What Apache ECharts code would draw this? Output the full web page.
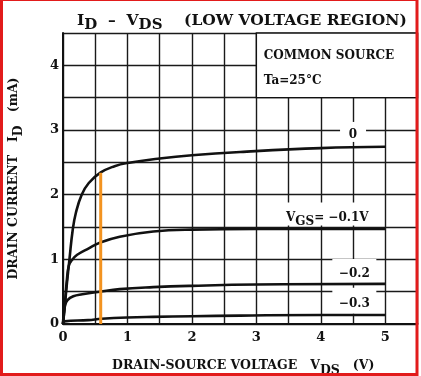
<!DOCTYPE html>
<html>
<head>
<meta charset="utf-8">
<script src="https://cdn.jsdelivr.net/npm/echarts@6/dist/echarts.min.js"></script>
<style>
  html, body { margin: 0; padding: 0; background: #fff; }
  #chart { width: 421px; height: 376px; }
</style>
</head>
<body>
<div id="chart"></div>
<script>
// drain current curves, [VDS (V), ID (mA)]
const curveVgs0 = [[0, 0], [0.03, 0.3], [0.06, 0.62], [0.1, 1.0], [0.15, 1.45], [0.2, 1.72], [0.29, 2.0], [0.4, 2.18], [0.58, 2.34], [0.8, 2.44], [1.0, 2.49], [1.5, 2.56], [2, 2.61], [2.75, 2.66], [4, 2.72], [5, 2.74]];
const curveVgsM01 = [[0, 0], [0.03, 0.32], [0.06, 0.68], [0.09, 0.9], [0.14, 0.99], [0.22, 1.07], [0.4, 1.17], [0.58, 1.26], [0.88, 1.35], [1.4, 1.43], [2, 1.46], [3, 1.47], [5, 1.47]];
const curveVgsM02 = [[0, 0], [0.01, 0.15], [0.03, 0.28], [0.07, 0.37], [0.16, 0.43], [0.3, 0.46], [0.57, 0.5], [0.88, 0.54], [1.4, 0.57], [2, 0.59], [3, 0.61], [5, 0.62]];
const curveVgsM03 = [[0, 0], [0.02, 0.04], [0.39, 0.06], [0.6, 0.08], [1, 0.1], [1.4, 0.11], [2, 0.12], [2.75, 0.13], [4, 0.14], [5, 0.14]];
const markerLine = [[0.585, 0], [0.585, 2.34]];

// curve labels: [x, y, text]
const curveLabels = [
  [4.5, 2.97, '0'],
  [4.1, 1.7, '{a|V}{s|GS}{a|= −0.1V}'],
  [4.52, 0.82, '−0.2'],
  [4.52, 0.36, '−0.3']
];
const labelBoxes = [[26, 20], [95, 23], [44, 24], [44, 26]];
const noteBox = [[3, 3.5], [5.5, 4.5]];
const noteText = 'COMMON SOURCE\nTa=25°C';

const FONT = 'DejaVu Serif';
const chart = echarts.init(document.getElementById('chart'));

function curve(data) {
  return {
    type: 'line',
    data: data,
    z: 3,
    smooth: 0.45,
    symbol: 'none',
    lineStyle: { color: '#111', width: 2.6 },
    silent: true
  };
}

const rich = {
  a: { fontFamily: FONT, fontSize: 12, fontWeight: 'bold', color: '#111' },
  s: { fontFamily: FONT, fontSize: 12, fontWeight: 'bold', color: '#111', padding: [8, 0, 0, 0] }
};
const nameRich = {
  a: { fontFamily: FONT, fontSize: 12.5, fontWeight: 'bold', color: '#111' },
  s: { fontFamily: FONT, fontSize: 12.5, fontWeight: 'bold', color: '#111', padding: [9, 0, 0, 0] }
};

var option = {
  backgroundColor: '#fff',
  animation: false,
  title: {
    left: 72,
    top: 3,
    text: '{a|I}{s|D}{a|  –  V}{s|DS}{a|    (LOW VOLTAGE REGION)}',
    textStyle: {
      rich: {
        a: { fontFamily: FONT, fontSize: 15.5, fontWeight: 'bold', color: '#111' },
        s: { fontFamily: FONT, fontSize: 15, fontWeight: 'bold', color: '#111', padding: [10, 0, 0, 0] }
      }
    }
  },
  grid: { left: 63, right: 3.5, top: 33, bottom: 52, outerBoundsMode: 'none' },
  xAxis: {
    type: 'value',
    min: 0,
    max: 5.5,
    interval: 0.5,
    name: '{a|DRAIN-SOURCE VOLTAGE   V}{s|DS}{a|   (V)}',
    nameLocation: 'middle',
    nameGap: 31,
    nameTextStyle: { rich: nameRich, padding: [0, 0, 0, 6] },
    axisLine: { lineStyle: { color: '#111', width: 2 } },
    axisTick: { show: false },
    splitLine: { lineStyle: { color: '#1a1a1a', width: 1.4 } },
    axisLabel: {
      margin: 7,
      fontFamily: FONT,
      fontSize: 13,
      fontWeight: 'bold',
      color: '#111',
      formatter: v => Number.isInteger(v) ? String(v) : ''
    }
  },
  yAxis: {
    type: 'value',
    min: 0,
    max: 4.5,
    interval: 0.5,
    name: '{a|DRAIN CURRENT   I}{s|D}{a|   (mA)}',
    nameLocation: 'middle',
    nameGap: 38,
    nameTextStyle: { rich: nameRich },
    axisLine: { show: true, lineStyle: { color: '#111', width: 2 } },
    axisTick: { show: false },
    splitLine: { lineStyle: { color: '#1a1a1a', width: 1.4 } },
    axisLabel: {
      margin: 4,
      fontFamily: FONT,
      fontSize: 13,
      fontWeight: 'bold',
      color: '#111',
      formatter: v => Number.isInteger(v) ? String(v) : ''
    }
  },
  series: [
    curve(curveVgs0),
    curve(curveVgsM01),
    curve(curveVgsM02),
    curve(curveVgsM03),
    {
      type: 'line',
      data: markerLine,
      z: 4,
      symbol: 'none',
      lineStyle: { color: '#f39320', width: 3 },
      silent: true
    },
    {
      type: 'line',
      data: [],
      silent: true,
      markArea: {
        z: 1,
        silent: true,
        itemStyle: { color: '#fff', opacity: 1, borderColor: '#111', borderWidth: 1.4 },
        label: {
          show: true,
          position: 'insideTopLeft',
          distance: 0,
          padding: [11, 0, 0, 8],
          formatter: noteText,
          fontFamily: FONT,
          fontSize: 12,
          fontWeight: 'bold',
          lineHeight: 25,
          color: '#111'
        },
        data: [[{ coord: noteBox[0] }, { coord: noteBox[1] }]]
      },
      markPoint: {
        z: 1,
        silent: true,
        symbol: 'rect',
        itemStyle: { color: '#fff' },
        label: {
          show: true,
          position: 'inside',
          color: '#111',
          fontFamily: FONT,
          fontSize: 12,
          fontWeight: 'bold',
          rich: rich
        },
        data: curveLabels.map((d, i) => ({
          coord: [d[0], d[1]],
          symbolSize: labelBoxes[i],
          label: { formatter: d[2], offset: i === 1 ? [0, 4] : [0, 3] }
        }))
      }
    }
  ],
  graphic: [
    {
      type: 'rect',
      z: 100,
      silent: true,
      shape: { x: 1.5, y: -0.5, width: 415.5, height: 375 },
      style: { fill: null, stroke: '#e21b1b', lineWidth: 3 }
    }
  ]
};

chart.setOption(option);
</script>
</body>
</html>
